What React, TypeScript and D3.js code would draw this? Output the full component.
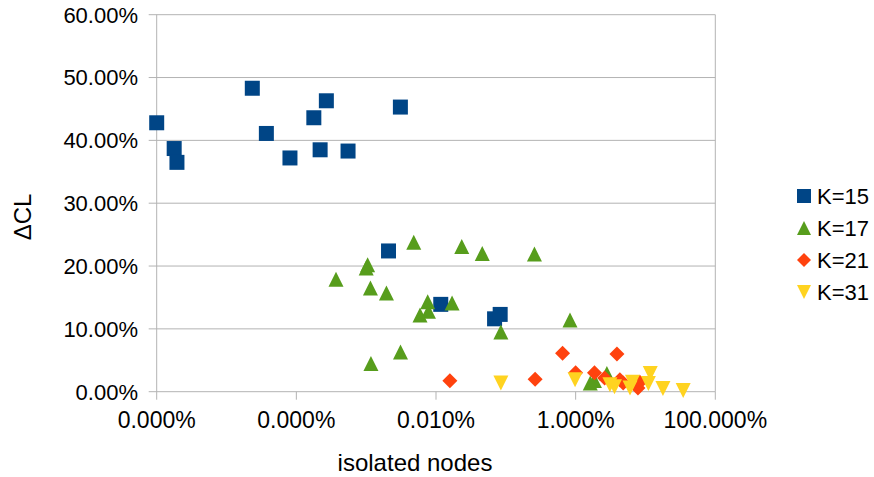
import React from "react";
import * as d3 from "d3";

// isolated-node fractions (x) and ΔCL in percent (y)
const k15X = [1.0e-8, 1.78e-8, 1.95e-8, 2.34e-7, 3.72e-7, 8.1e-7, 1.78e-6, 2.19e-6, 2.69e-6, 5.5e-6, 3.09e-5, 2.09e-5, 1.17e-4, 6.9e-4, 8.3e-4];
const k15Y = [42.8, 38.7, 36.5, 48.3, 41.1, 37.2, 43.6, 38.5, 46.3, 38.3, 45.3, 22.4, 13.9, 11.6, 12.3];

const k17X = [4.8e-5, 1.05e-5, 1.0e-5, 3.7e-6, 1.15e-5, 1.95e-5, 7.6e-5, 7.8e-5, 5.9e-5, 3.1e-5, 1.17e-5, 2.34e-4, 4.6e-4, 2.57e-3, 1.7e-4, 8.3e-3, 8.5e-4, 1.62e-2, 1.86e-2, 2.8e-2];
const k17Y = [23.8, 20.2, 19.7, 17.9, 16.5, 15.7, 14.3, 12.8, 12.2, 6.3, 4.5, 23.1, 22.0, 21.9, 14.1, 11.4, 9.5, 1.4, 1.8, 2.9];

const k21X = [1.58e-4, 2.63e-3, 6.5e-3, 3.9e-2, 1.0e-2, 1.86e-2, 2.6e-2, 4.3e-2, 4.8e-2, 7.2e-2, 7.8e-2, 8.3e-2];
const k21Y = [1.75, 2.0, 6.1, 6.0, 3.0, 3.0, 2.2, 1.9, 1.4, 1.4, 0.6, 1.5];

const k31X = [8.5e-4, 9.8e-3, 3.1e-2, 3.6e-2, 6.0e-2, 6.5e-2, 0.11, 0.117, 0.178, 0.347];
const k31Y = [1.4, 1.9, 1.1, 0.8, 0.6, 1.5, 1.3, 2.9, 0.5, 0.2];

const seriesNames = ["K=15", "K=17", "K=21", "K=31"];
const seriesColors = ["#004586", "#579d1c", "#ff420e", "#ffd320"];
const seriesShapes = ["square", "triUp", "diamond", "triDown"];

const xTicks = [1e-8, 1e-6, 1e-4, 1e-2, 1];
const yTicks = [0, 0.1, 0.2, 0.3, 0.4, 0.5, 0.6];

const W = 874;
const H = 477;
const L = 156.7;
const R = 715.3;
const T = 14.7;
const B = 391.7;

function markerPath(shape: string, cx: number, cy: number, s: number) {
  const h = s / 2;
  if (shape === "square") return `M${cx - h},${cy - h}h${s}v${s}h${-s}Z`;
  if (shape === "triUp") return `M${cx},${cy - h}L${cx + h},${cy + h}L${cx - h},${cy + h}Z`;
  if (shape === "triDown") return `M${cx - h},${cy - h}L${cx + h},${cy - h}L${cx},${cy + h}Z`;
  return `M${cx},${cy - h}L${cx + h},${cy}L${cx},${cy + h}L${cx - h},${cy}Z`;
}

export default function App() {
  const x = d3.scaleLog().domain([1e-8, 1]).range([L, R]);
  const y = d3.scaleLinear().domain([0, 0.6]).range([B, T]);
  const fx = d3.format(".3%");
  const fy = d3.format(".2%");
  const grid = "#b3b3b3";
  const font = "'Liberation Sans', Arial, sans-serif";

  const data = [
    k15X.map((v, i) => [v, k15Y[i] / 100]),
    k17X.map((v, i) => [v, k17Y[i] / 100]),
    k21X.map((v, i) => [v, k21Y[i] / 100]),
    k31X.map((v, i) => [v, k31Y[i] / 100]),
  ];
  const sizes = [15, 15, 15, 15];

  return (
    <svg width={W} height={H} style={{ position: "absolute", left: 0, top: 0, background: "#fff" }} fontFamily={font}>
      {yTicks.map((t) => (
        <g key={"y" + t}>
          <line x1={L - 8} x2={R} y1={y(t)} y2={y(t)} stroke={grid} strokeWidth={1} />
          <text x={138} y={y(t)} dy="0.36em" textAnchor="end" fontSize={22} fill="#000">
            {fy(t)}
          </text>
        </g>
      ))}
      <line x1={L} x2={L} y1={T} y2={B} stroke={grid} strokeWidth={1} />
      <line x1={R} x2={R} y1={T} y2={B} stroke={grid} strokeWidth={1} />
      {xTicks.map((t, i) => (
        <g key={"x" + i}>
          <line x1={x(t)} x2={x(t)} y1={B} y2={B + 8} stroke={grid} strokeWidth={1} />
          <text x={x(t)} y={B + 36.6} textAnchor="middle" fontSize={23} fill="#000">
            {fx(t)}
          </text>
        </g>
      ))}
      {data.map((pts, si) => (
        <g key={"s" + si}>
          {pts.map((p, i) => (
            <path key={i} d={markerPath(seriesShapes[si], x(p[0]), y(p[1]), sizes[si])} fill={seriesColors[si]} />
          ))}
        </g>
      ))}
      <text x={415} y={470.7} textAnchor="middle" fontSize={24} fill="#000">
        isolated nodes
      </text>
      <text transform={`translate(31,217) rotate(-90)`} textAnchor="middle" fontSize={24} fill="#000">
        ΔCL
      </text>
      {seriesNames.map((n, i) => (
        <g key={"l" + i}>
          <path d={markerPath(seriesShapes[i], 804, 196 + i * 32, 14)} fill={seriesColors[i]} />
          <text x={817} y={196 + i * 32} dy="0.36em" fontSize={22} fill="#000">
            {n}
          </text>
        </g>
      ))}
    </svg>
  );
}
